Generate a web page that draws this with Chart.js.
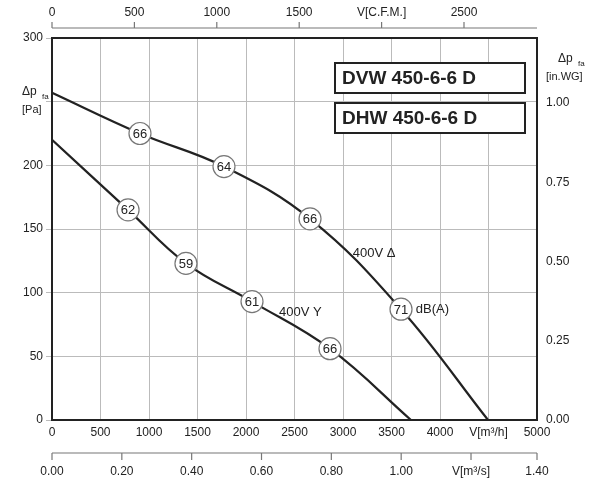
<!DOCTYPE html>
<html><head><meta charset="utf-8">
<script src="https://cdn.jsdelivr.net/npm/chart.js@4"></script>
<style>body{margin:0;background:#fff}#wrap{width:600px;height:502px}</style>
</head><body><div id="wrap"><canvas id="c"></canvas></div>
<script>
// curve 400V Delta (m3/h, Pa)
const deltaX = [0, 907, 1773, 2660, 3598, 4495];
const deltaY = [257, 225, 199, 158, 87, 0];
// curve 400V Y
const starX = [0, 784, 1381, 2062, 2866, 3701];
const starY = [220, 165, 123, 93, 56, 0];
// noise markers
const markX = [907, 1773, 2660, 3598, 784, 1381, 2062, 2866];
const markY = [225, 199, 158, 87, 165, 123, 93, 56];
const markDb = ['66', '64', '66', '71', '62', '59', '61', '66'];
// secondary axis ticks
const cfmTicks = [0, 500, 1000, 1500, 2000, 2500];
const m3sTicks = [0, 0.2, 0.4, 0.6, 0.8, 1.0, 1.2, 1.389];

const pts = (xs, ys) => xs.map((x, i) => ({x: x, y: ys[i]}));
const F = 'Liberation Sans, Arial, sans-serif';

const overlay = {
    id: 'overlay',
    afterDraw(chart) {
        const c = chart.ctx, x = chart.scales.x, y = chart.scales.y, a = chart.chartArea;
        c.save();
        // separate axis lines
        c.strokeStyle = '#777'; c.lineWidth = 1.2;
        c.beginPath(); c.moveTo(a.left, 28); c.lineTo(chart.scales.xt.getPixelForValue(2943), 28);
        cfmTicks.forEach(v => { const p = chart.scales.xt.getPixelForValue(v); c.moveTo(p, 28); c.lineTo(p, 22); });
        c.moveTo(a.left, 453); c.lineTo(a.right, 453);
        m3sTicks.forEach(v => { const p = chart.scales.xs.getPixelForValue(v); c.moveTo(p, 453); c.lineTo(p, 460); });
        c.stroke();

        c.font = '13px ' + F;
        c.fillStyle = '#222';
        c.fillText('400V \u0394', x.getPixelForValue(3100), y.getPixelForValue(128));
        c.fillText('400V Y', x.getPixelForValue(2340), y.getPixelForValue(82));
        c.fillText('dB(A)', x.getPixelForValue(3750), y.getPixelForValue(84));
        markX.forEach((mx, i) => {
            const px = x.getPixelForValue(mx), py = y.getPixelForValue(markY[i]);
            c.beginPath(); c.arc(px, py, 11, 0, Math.PI * 2);
            c.fillStyle = '#fff'; c.fill();
            c.strokeStyle = '#777'; c.lineWidth = 1.2; c.stroke();
            c.fillStyle = '#222'; c.textAlign = 'center'; c.textBaseline = 'middle';
            c.fillText(markDb[i], px, py + 1);
        });
        // title boxes
        c.font = 'bold 19px ' + F; c.textAlign = 'left';
        [['DVW 450-6-6 D', 63], ['DHW 450-6-6 D', 103]].forEach(t => {
            c.fillStyle = '#fff'; c.fillRect(335, t[1], 190, 30);
            c.strokeStyle = '#222'; c.lineWidth = 2; c.strokeRect(335, t[1], 190, 30);
            c.fillStyle = '#222'; c.fillText(t[0], 342, t[1] + 16);
        });
        // border
        c.strokeStyle = '#222'; c.lineWidth = 2;
        c.strokeRect(a.left, a.top, a.right - a.left, a.bottom - a.top);
        // axis titles
        c.font = '12px ' + F; c.textBaseline = 'alphabetic'; c.fillStyle = '#222';
        c.textAlign = 'left';
        c.fillText('\u0394p', 22, 95); c.font = '8px ' + F; c.fillText('fa', 42, 99);
        c.font = '11px ' + F; c.fillText('[Pa]', 22, 113);
        c.font = '12px ' + F; c.fillText('\u0394p', 558, 62); c.font = '8px ' + F; c.fillText('fa', 578, 66);
        c.font = '11px ' + F; c.fillText('[in.WG]', 546, 80);
        c.restore();
    }
};

new Chart(document.getElementById('c'), {
    type: 'scatter',
    data: {
        datasets: [
            {data: pts(deltaX, deltaY), showLine: true, tension: 0.4, borderColor: '#222', borderWidth: 2.2, pointRadius: 0},
            {data: pts(starX, starY), showLine: true, tension: 0.4, borderColor: '#222', borderWidth: 2.2, pointRadius: 0}
        ]
    },
    options: {
        responsive: true, maintainAspectRatio: false, animation: false,
        layout: {padding: 0},
        plugins: {legend: {display: false}, tooltip: {enabled: false}},
        scales: {
            x: {
                type: 'linear', position: 'bottom', min: 0, max: 5000,
                afterFit: s => { s.height = 30; },
                afterBuildTicks: s => { s.ticks = [0,500,1000,1500,2000,2500,3000,3500,4000,4500,5000].map(v => ({value: v})); },
                ticks: {color: '#222', font: {size: 12, family: F}, maxRotation: 0, padding: 5,
                    callback: v => v === 4500 ? 'V[m\u00b3/h]' : v},
                grid: {color: '#bbb', lineWidth: 1, drawTicks: false}, border: {display: false}
            },
            xs: {
                type: 'linear', position: 'bottom', min: 0, max: 1.389,
                afterFit: s => { s.height = 52; },
                afterBuildTicks: s => { s.ticks = m3sTicks.map(v => ({value: v})); },
                ticks: {color: '#222', font: {size: 12, family: F}, maxRotation: 0, padding: 14,
                    callback: v => v > 1.3 ? '1.40' : (v === 1.2 ? 'V[m\u00b3/s]' : v.toFixed(2))},
                grid: {display: false, drawTicks: false}, border: {display: false}
            },
            xt: {
                type: 'linear', position: 'top', min: 0, max: 2943,
                afterFit: s => { s.height = 38; },
                afterBuildTicks: s => { s.ticks = cfmTicks.map(v => ({value: v})); },
                ticks: {color: '#222', font: {size: 12, family: F}, maxRotation: 0, padding: 18,
                    callback: v => v === 2000 ? 'V[C.F.M.]' : v},
                grid: {display: false, drawTicks: false}, border: {display: false}
            },
            y: {
                min: 0, max: 300, position: 'left',
                afterFit: s => { s.width = 52; },
                ticks: {stepSize: 50, color: '#222', font: {size: 12, family: F},
                    callback: v => v === 250 ? '' : v},
                grid: {color: '#bbb', tickLength: 6}, border: {display: false}
            },
            yr: {
                min: 0, max: 1.2048, position: 'right',
                afterFit: s => { s.width = 63; },
                afterBuildTicks: s => { s.ticks = [0,0.25,0.5,0.75,1.0].map(v => ({value: v})); },
                ticks: {color: '#222', font: {size: 12, family: F}, callback: v => v.toFixed(2)},
                grid: {display: false, tickLength: 6}, border: {display: false}
            }
        }
    },
    plugins: [overlay]
});
</script></body></html>
